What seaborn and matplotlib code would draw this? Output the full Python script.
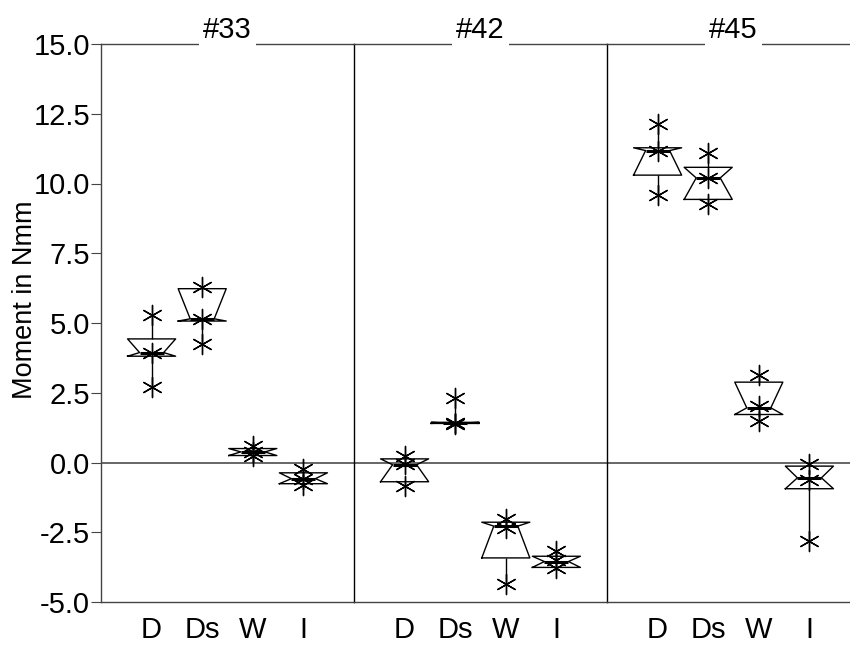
import matplotlib
matplotlib.use("Agg")
import matplotlib.pyplot as plt
import pandas as pd
import seaborn as sns
from matplotlib.ticker import FormatStrFormatter

plt.rcParams["font.family"] = ["Liberation Sans", "DejaVu Sans"]

specimens = ["#33", "#42", "#45"]
load_cases = ["D", "Ds", "W", "I"]

# box summaries per load case: whisker low, Q1, median, Q3, whisker high
box_33 = [[2.72, 3.81, 3.94, 4.43, 5.30], [4.25, 5.07, 5.15, 6.23, 6.30],
          [0.20, 0.25, 0.38, 0.50, 0.60], [-0.80, -0.76, -0.58, -0.37, -0.25]]
box_42 = [[-0.85, -0.69, -0.08, 0.13, 0.23], [1.38, 1.40, 1.42, 1.44, 2.32],
          [-4.37, -3.42, -2.28, -2.14, -1.95], [-3.82, -3.76, -3.55, -3.36, -3.18]]
box_45 = [[9.57, 10.30, 11.18, 11.28, 12.15], [9.25, 9.43, 10.20, 10.58, 11.10],
          [1.48, 1.72, 1.96, 2.88, 3.15], [-2.82, -0.94, -0.55, -0.13, -0.07]]

# measured values (asterisks)
points_33 = [[5.30, 3.94, 2.72], [6.30, 5.16, 4.25], [0.58, 0.38, 0.22], [-0.25, -0.58, -0.80]]
points_42 = [[0.23, -0.07, -0.85], [2.32, 1.42, 1.38], [-2.04, -2.33, -4.37], [-3.18, -3.48, -3.78]]
points_45 = [[12.15, 11.18, 9.57], [11.10, 10.20, 9.25], [3.15, 2.02, 1.48], [-0.07, -0.61, -2.82]]

y_ticks = [-5.0, -2.5, 0.0, 2.5, 5.0, 7.5, 10.0, 12.5, 15.0]
y_label = "Moment in Nmm"

boxes = {"#33": box_33, "#42": box_42, "#45": box_45}
points = {"#33": points_33, "#42": points_42, "#45": points_45}


def to_long(rows):
    return pd.DataFrame([(c, v) for c, vals in zip(load_cases, rows) for v in vals],
                        columns=["case", "moment"])


def clip_notches(ax):
    # notches reaching past the hinges are folded back onto the hinges
    for ln in ax.lines:
        y = list(ln.get_ydata())
        if len(y) == 11:
            q1, q3 = y[0], y[5]
            y[2] = y[9] = q1
            y[4] = y[7] = q3
            ln.set_ydata(y)


fig = plt.figure(figsize=(8.5, 6.45), dpi=100)
W, H = 850.0, 645.0
left_px, panel_px = 101.0, 253.0
bottom = 1 - 602 / H
height = (602 - 44) / H
asterisk = (6, 2, 0)
FS = 21

axes = []
for i, spec in enumerate(specimens):
    ax = fig.add_axes([(left_px + i * panel_px) / W, bottom, panel_px / W, height],
                      sharey=axes[0] if axes else None)
    axes.append(ax)
    ax.axhline(0, color="#5a5a5a", lw=1.3, zorder=1)
    sns.boxplot(data=to_long(boxes[spec]), x="case", y="moment", order=load_cases,
                ax=ax, notch=True, whis=(0, 100), width=0.95, fill=False,
                color="black", linewidth=1.0, showcaps=False, fliersize=0,
                medianprops=dict(linewidth=2.2, color="black"))
    clip_notches(ax)
    sns.stripplot(data=to_long(points[spec]), x="case", y="moment", order=load_cases,
                  ax=ax, jitter=False, marker=asterisk, color="black",
                  edgecolor="black", size=14.5, linewidth=1.0, zorder=4)
    ax.set_xlim(-1, 4)
    ax.set_xlabel("")
    ax.set_ylabel("")
    ax.set_title(spec, fontsize=FS, pad=4.3,
                 bbox=dict(facecolor="white", edgecolor="none", boxstyle="square,pad=0.15"))
    ax.tick_params(axis="x", length=0, pad=10, labelsize=FS)
    for s in ["top", "bottom"]:
        ax.spines[s].set_color("#444444")
        ax.spines[s].set_linewidth(1.0)
    ax.spines["right"].set_visible(False)
    ax.spines["left"].set_color("black")
    ax.spines["left"].set_linewidth(1.0)
    if i > 0:
        ax.tick_params(axis="y", left=False, labelleft=False)

ax0 = axes[0]
ax0.set_ylim(-5, 15)
ax0.set_yticks(y_ticks)
ax0.yaxis.set_major_formatter(FormatStrFormatter("%.1f"))
ax0.tick_params(axis="y", length=7, pad=1, labelsize=FS, direction="out", color="#444444")
ax0.spines["left"].set_color("#444444")
ax0.set_ylabel(y_label, fontsize=19.5)
ax0.yaxis.set_label_coords(-0.25, 0.542)

fig.savefig("out.png", dpi=100)
